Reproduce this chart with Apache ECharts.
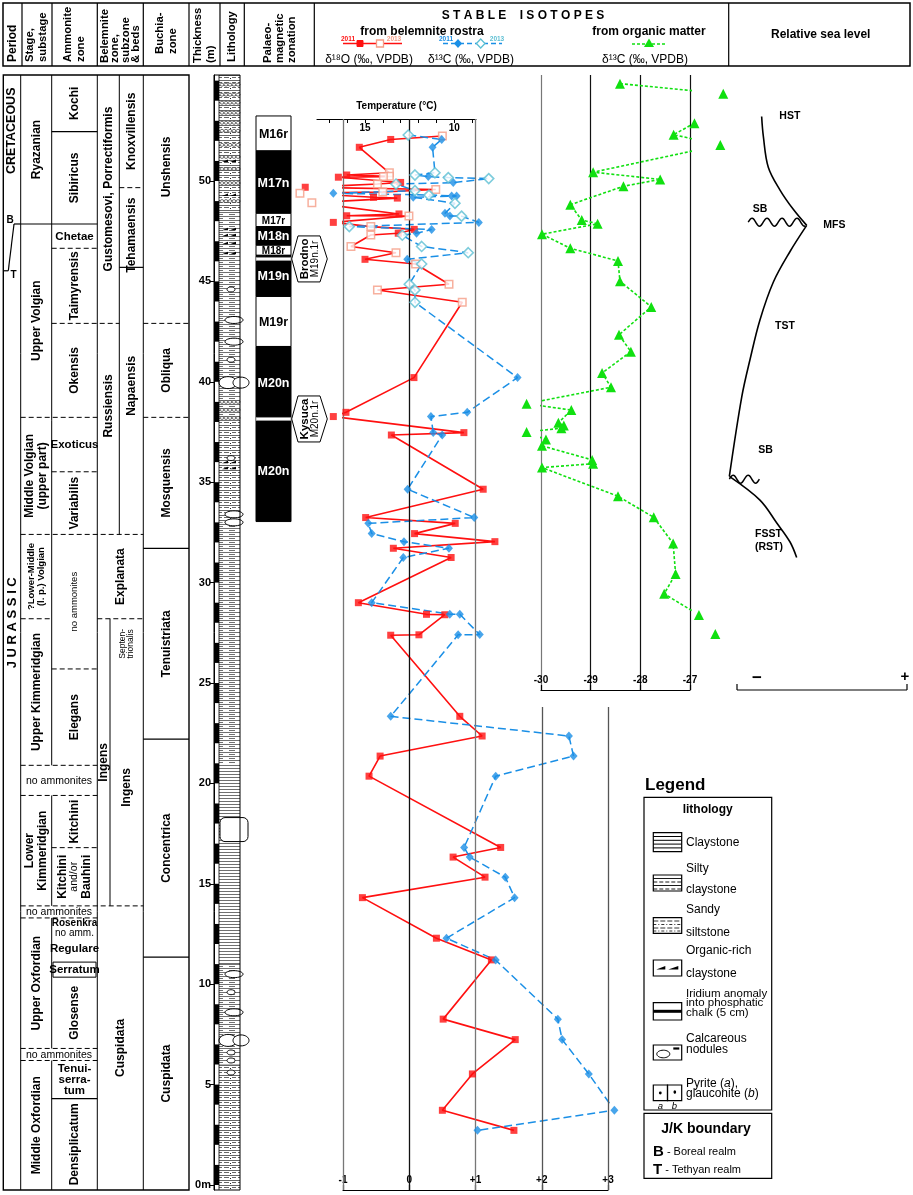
<!DOCTYPE html>
<html>
<head>
<meta charset="utf-8">
<title>Stable isotopes</title>
<script src="https://cdn.jsdelivr.net/npm/echarts@6.0.0/dist/echarts.min.js"></script>
<style>
html,body{margin:0;padding:0;background:#fff;}
#chart{width:913px;height:1195px;}
</style>
</head>
<body>
<div id="chart"></div>
<script>
// ======================= DATA =======================
// thickness (m) is the vertical value everywhere
const thicknessTicks = [0, 5, 10, 15, 20, 25, 30, 35, 40, 45, 50];
const temperatureTicks = [9, 10, 11, 12, 13, 14, 15, 16, 17];
const temperatureLabels = [10, 15];

// belemnite delta18O  [permil, thickness]
const d18O_2011 = [
  [-0.28, 52.07], [-0.754, 51.68], [-0.944, 50.30], [-1.07, 50.19], [-0.13, 49.93], [-1.57, 49.69],
  [-0.54, 49.19], [-0.18, 49.15], [-0.155, 48.36], [-0.944, 48.27], [-1.146, 47.94], [0.075, 47.59],
  [-0.166, 47.40], [-0.668, 46.10], [0.071, 40.21], [-0.955, 38.48], [-1.146, 38.27], [0.825, 37.47],
  [-0.27, 37.35], [1.116, 34.65], [-0.658, 33.24], [0.694, 32.95], [0.08, 32.44], [1.293, 32.04],
  [-0.24, 31.71], [0.632, 31.25], [-0.768, 29.0], [0.26, 28.42], [0.537, 28.40], [0.146, 27.40],
  [-0.28, 27.38], [0.763, 23.34], [1.10, 22.36], [-0.44, 21.36], [-0.607, 20.36], [1.38, 16.81],
  [0.662, 16.33], [1.144, 15.33], [-0.707, 14.31], [0.41, 12.29], [1.24, 11.21], [0.512, 8.26],
  [1.60, 7.24], [0.953, 5.53], [0.50, 3.72], [1.58, 2.72]
];
const d18O_2013 = [
  [0.50, 52.24], [-0.30, 50.41], [-0.30, 50.24], [-0.39, 50.22], [-0.48, 49.85], [0.40, 49.58],
  [-0.40, 49.45], [-1.65, 49.39], [-1.47, 48.92], [-0.005, 48.26], [-0.58, 47.73], [-0.58, 47.31],
  [-0.88, 46.74], [-0.20, 46.43], [0.096, 45.87], [0.60, 44.86], [-0.48, 44.57], [0.80, 43.96]
];
// belemnite delta13C
const d13C_2011 = [
  [0.49, 52.07], [0.352, 51.68], [0.287, 50.22], [0.664, 49.92], [-1.146, 49.39], [0.715, 49.26],
  [0.64, 49.25], [0.06, 49.19], [0.539, 48.39], [0.614, 48.26], [1.05, 47.94], [0.338, 47.59],
  [0.11, 47.40], [-0.03, 46.10], [1.635, 40.21], [0.875, 38.48], [0.327, 38.27], [0.362, 37.47],
  [0.498, 37.35], [-0.025, 34.65], [0.981, 33.24], [-0.618, 32.95], [-0.567, 32.44], [-0.08, 32.04],
  [0.599, 31.71], [-0.09, 31.25], [-0.567, 29.0], [0.612, 28.43], [0.763, 28.42], [1.064, 27.41],
  [0.738, 27.40], [-0.28, 23.34], [2.41, 22.36], [2.48, 21.36], [1.305, 20.36], [0.828, 16.81],
  [0.913, 16.33], [1.45, 15.33], [1.59, 14.31], [0.562, 12.29], [1.305, 11.2], [2.243, 8.26],
  [2.308, 7.24], [2.71, 5.53], [3.096, 3.72], [1.03, 2.72]
];
const d13C_2013 = [
  [-0.015, 52.29], [0.388, 50.41], [0.086, 50.30], [0.589, 50.17], [1.20, 50.12], [-0.20, 49.85],
  [0.086, 49.52], [0.297, 49.30], [0.69, 48.89], [0.79, 48.25], [-0.905, 47.73], [-0.105, 47.30],
  [0.187, 46.74], [0.89, 46.43], [0.187, 45.87], [0.0, 44.86], [0.086, 44.57], [0.086, 43.96]
];
// organic matter delta13C
const d13Corg = [
  [-28.41, 54.85], [-26.33, 54.35], [-26.91, 52.88], [-27.33, 52.31], [-26.39, 51.79], [-28.95, 50.44],
  [-27.60, 50.08], [-28.34, 49.74], [-29.41, 48.82], [-29.18, 48.06], [-28.86, 47.87], [-29.98, 47.35],
  [-29.41, 46.65], [-28.45, 46.02], [-28.41, 45.01], [-27.78, 43.73], [-28.43, 42.34], [-28.19, 41.50],
  [-28.77, 40.44], [-28.59, 39.73], [-30.29, 38.91], [-29.39, 38.59], [-29.65, 37.96], [-29.54, 37.82],
  [-29.59, 37.69], [-30.29, 37.50], [-29.90, 37.12], [-29.98, 36.81], [-28.97, 36.11], [-28.95, 35.92],
  [-29.98, 35.73], [-28.45, 34.30], [-27.73, 33.25], [-27.34, 31.95], [-27.29, 30.43], [-27.52, 29.44],
  [-26.82, 28.39], [-26.49, 27.44]
];
// relative sea level (relative position, thickness)
const seaHST = [[1.45, 53.21], [1.55, 52.22], [1.84, 50.69], [2.53, 49.55], [3.31, 48.59], [4.10, 47.79]];
const seaTST = [[4.10, 47.79], [3.12, 46.49], [2.14, 44.97], [1.35, 43.08], [0.78, 41.16], [0.28, 39.25], [-0.45, 35.29]];
const seaFSST = [[-0.45, 35.29], [1.35, 34.11], [2.34, 32.97], [3.12, 32.02], [3.51, 31.25]];
const sequenceBoundaries = [[0.66, 4.05, 47.95], [-0.45, 1.35, 35.15]];
const sequenceLabels = [['HST', 2.49, 53.21], ['SB', 0.92, 48.61], ['MFS', 5.08, 47.79], ['TST', 2.24, 42.78], ['SB', 1.25, 36.58], ['FSST\n(RST)', 1.06, 32.07]];

// palaeomagnetic zonation [name, top, base, black]
const magnetozones = [
  ['M16r', 53.24, 51.5, 0], ['M17n', 51.5, 48.39, 1], ['M17r', 48.39, 47.73, 0], ['M18n', 47.73, 46.80, 1],
  ['M18r', 46.80, 46.30, 0], ['M19n', 46.30, 44.25, 1], ['M19r', 44.25, 41.76, 0], ['M20n', 41.76, 38.15, 1],
  ['M20n', 38.15, 33.04, 1]
];
const subchrons = [['Brodno', 'M19n.1r', 46.12], ['Kysuca', 'M20n.1r', 38.15]];

// lithology [base, top, type]
const lithology = [[-0.25, 6.0, 'sand'], [6.0, 11.0, 'silt'], [11.0, 21.0, 'clay'], [21.0, 33.0, 'silt'],
  [33.0, 38.0, 'sand'], [38.0, 48.5, 'silt'], [48.5, 55.28, 'sand']];
const nodules = [[5.6, 1], [6.2, 1], [6.6, 1], [7.2, 3], [8.6, 2], [9.6, 1], [10.5, 2], [17.7, 4], [33.0, 2], [33.4, 2],
  [36.2, 1], [39.96, 3], [41.1, 1], [42.0, 2], [43.08, 2], [44.6, 1]];
const nodularRows = [54.8, 54.3, 53.9, 53.4, 52.9, 52.5, 51.8, 51.2, 50.6, 49.9, 49.0, 39.0, 38.6, 38.2];
const organicMarks = [35.7, 36.0, 46.4, 46.9, 47.3, 47.6, 49.3, 51.0];
const scaleBarBlack = [[0, 1], [2, 3], [4, 5], [6, 7], [8, 9], [10, 11], [12, 13], [14, 15], [16, 17], [18, 19], [20, 21],
  [22, 23], [24, 25], [26, 27], [28, 29], [30, 31], [32, 33], [34, 35], [36, 37], [38, 39], [40, 41], [42, 43],
  [44, 45], [46, 47], [48, 49], [50, 51], [52, 53], [54, 55]];

// stratigraphy (name, top, base[, level of the label])
const periods = [['CRETACEOUS', 52.5], ['J U R A S S I C', 28.0]];
const jkBoundary = {boreal: 47.86, tethyan: 45.53};
const stageUnits = [
  ['Ryazanian', 55.28, 47.86], ['Upper Volgian', 47.86, 38.23], ['Middle Volgian\n(upper part)', 38.23, 32.4],
  ['?Lower-Middle\n(l. p.) Volgian', 32.4, 28.2], ['Upper Kimmeridgian', 28.2, 20.9], ['Lower\nKimmeridgian', 19.4, 13.9],
  ['Upper Oxfordian', 13.3, 6.8], ['Middle Oxfordian', 6.2, -0.25]
];
const noAmmoniteBands = [[20.9, 19.4], [13.9, 13.3], [6.8, 6.2]];
const ammoniteZones = [
  ['Kochi', 55.28, 52.46], ['Sibiricus', 52.46, 47.86], ['Chetae', 47.86, 46.65], ['Taimyrensis', 46.65, 42.91],
  ['Okensis', 42.91, 38.23], ['Exoticus', 38.23, 35.52], ['Variabilis', 35.52, 32.4], ['no ammonites', 32.4, 25.7],
  ['Elegans', 25.7, 20.9], ['Kitchini', 19.4, 16.8], ['Kitchini\nand/or\nBauhini', 16.8, 13.9], ['Rosenkra', 13.3, 12.85],
  ['no amm.', 12.85, 12.3], ['Regulare', 12.3, 11.25], ['Serratum', 11.1, 10.35], ['Glosense', 10.35, 6.8],
  ['Tenui-\nserra-\ntum', 6.2, 4.3], ['Densiplicatum', 4.3, -0.25]
];
const belemniteZones = [
  ['Gustomesovi, Porrectiformis', 55.28, 42.91, 'belL', 49.6], ['Russiensis', 42.91, 32.4, 'belL', 38.8],
  ['Knoxvillensis', 55.28, 49.67, 'belR'], ['Tehamaensis', 49.67, 45.70, 'belR', 47.3], ['Napaensis', 45.70, 32.4, 'belR', 39.8],
  ['Explanata', 32.4, 28.2, 'bel'], ['Ingens', 28.2, 13.9, 'ingL'], ['Septen-\ntrionalis', 28.2, 25.7, 'ingR'],
  ['Ingens', 25.7, 13.9, 'ingR'], ['Cuspidata', 13.9, -0.25, 'bel']
];
const buchiaZones = [
  ['Unshensis', 55.28, 42.91, 50.7], ['Obliqua', 42.91, 38.23], ['Mosquensis', 38.23, 31.7], ['Tenuistriata', 31.7, 22.2],
  ['Concentrica', 22.2, 11.35], ['Cuspidata', 11.35, -0.25]
];
const zoneBoundaries = [ // [thickness, first column, last column, dashed]
  [52.46, 'amm', 'amm', 0], [47.86, 'stage', 'amm', 0], [46.65, 'amm', 'amm', 1], [42.91, 'amm', 'belL', 1],
  [42.91, 'buch', 'buch', 1], [38.23, 'stage', 'amm', 1], [38.23, 'buch', 'buch', 1], [35.52, 'amm', 'amm', 1],
  [32.4, 'stage', 'belR', 1], [31.7, 'buch', 'buch', 0], [28.2, 'stage', 'stage', 1], [28.2, 'belL', 'belR', 1],
  [25.7, 'amm', 'amm', 1], [22.2, 'buch', 'buch', 0], [20.9, 'stage', 'amm', 1], [19.4, 'stage', 'amm', 1],
  [16.8, 'amm', 'amm', 1], [13.9, 'stage', 'belR', 1], [13.3, 'stage', 'amm', 1], [11.35, 'buch', 'buch', 0],
  [6.8, 'stage', 'amm', 1], [6.2, 'stage', 'amm', 1], [4.3, 'amm', 'amm', 0], [49.67, 'belR', 'belR', 1],
  [45.70, 'belR', 'belR', 0]
];

// ======================= LAYOUT / STYLE =======================
const FONT = '"Liberation Sans", Arial, Helvetica, sans-serif';
const fnt = (bold, size, italic) => (italic ? 'italic ' : '') + (bold ? 'bold ' : '') + size + 'px ' + FONT;
const Y_MIN = -0.25, Y_MAX = 55.28, GT = 75, GB = 5;
const UPPER_MIN = 24.65; // grids ending at the organic/sea-level axis
const RED = '#ff1010', SALMON = '#f59c86', BLUE = '#1a8fe6', CYAN = '#5cbfd3', GREEN = '#10e010';
const COLS = {period: [3.3, 20.7], stage: [20.7, 51.7], amm: [51.7, 97.3], belL: [97.3, 119.3], belR: [119.3, 143.3],
  bel: [97.3, 143.3], ingL: [97.3, 110], ingR: [110, 143.3], buch: [143.3, 189]};

function makePattern(kind) {
  const c = document.createElement('canvas');
  if (kind === 'clay') {
    c.width = 8; c.height = 3;
    const g = c.getContext('2d'); g.fillStyle = '#fff'; g.fillRect(0, 0, 8, 3); g.fillStyle = '#707070'; g.fillRect(0, 0, 8, 1);
  } else if (kind === 'silt') {
    c.width = 12; c.height = 4;
    const g = c.getContext('2d'); g.fillStyle = '#fff'; g.fillRect(0, 0, 12, 4); g.fillStyle = '#707070';
    g.fillRect(0, 0, 12, 1); g.fillRect(1, 2, 6, 1);
  } else {
    c.width = 14; c.height = 5;
    const g = c.getContext('2d'); g.fillStyle = '#fff'; g.fillRect(0, 0, 14, 5); g.fillStyle = '#666';
    g.fillRect(0, 0, 14, 1); g.fillRect(0, 2, 5, 1); g.fillRect(8, 2, 4, 1); g.fillStyle = '#222'; g.fillRect(6, 3, 1, 1);
  }
  return c;
}
const LITHO_TYPES = ['clay', 'silt', 'sand'];
const PATS = LITHO_TYPES.map(makePattern);

const redLine = d18O_2011.concat(d18O_2013).sort((a, b) => b[1] - a[1]);
const blueLine = d13C_2011.concat(d13C_2013).sort((a, b) => b[1] - a[1]);

const hiddenX = (gi, min, max) => ({gridIndex: gi, type: 'value', min, max, show: false});
const hiddenY = (gi, min, max) => ({gridIndex: gi, type: 'value', min, max, show: false});
const bracketAxis = {
  axisLine: {show: true, onZero: false, lineStyle: {color: '#000', width: 1.2}},
  axisTick: {show: true, inside: true, length: 5, lineStyle: {color: '#000', width: 1.2}},
  axisLabel: {inside: true, color: '#000', fontFamily: FONT, fontWeight: 'bold', fontSize: 10, margin: 5}
};

const option = {
  animation: false,
  backgroundColor: '#fff',
  grid: [
    {left: 3, width: 186, top: GT, bottom: GB},     // 0 stratigraphy
    {left: 214, width: 26, top: GT, bottom: GB},    // 1 lithology + thickness
    {left: 256, width: 35, top: GT, bottom: GB},    // 2 palaeomagnetism
    {left: 343, width: 265, top: GT, bottom: GB},   // 3 belemnite isotopes
    {left: 317, width: 159, top: 119, height: 100}, // 4 temperature
    {left: 541, width: 149, top: GT, bottom: 505},  // 5 organic d13C
    {left: 720, width: 187, top: GT, bottom: 505}   // 6 sea level
  ],
  xAxis: [
    hiddenX(0, 0, 186),
    hiddenX(1, 0, 1),
    hiddenX(2, 0, 1),
    Object.assign({gridIndex: 3, type: 'value', min: -1, max: 3, interval: 1, position: 'bottom', splitLine: {show: false}}, bracketAxis,
      {axisLabel: Object.assign({}, bracketAxis.axisLabel, {formatter: v => v > 0 ? '+' + v : String(v)})}),
    {gridIndex: 4, type: 'value', position: 'top', inverse: true, min: 8.785, max: 17.69, splitLine: {show: false},
      axisLine: {show: true, onZero: false, lineStyle: {color: '#000', width: 1.2}},
      axisTick: {show: true, inside: true, length: 4, customValues: temperatureTicks, lineStyle: {color: '#000'}},
      axisLabel: {inside: true, customValues: temperatureLabels, color: '#000', fontFamily: FONT, fontWeight: 'bold', fontSize: 10, margin: 4},
      name: 'Temperature (°C)', nameLocation: 'middle', nameGap: 8,
      nameTextStyle: {color: '#000', fontFamily: FONT, fontWeight: 'bold', fontSize: 10}},
    Object.assign({gridIndex: 5, type: 'value', min: -30, max: -27, interval: 1, position: 'bottom',
      splitLine: {show: true, lineStyle: {color: ['#777', '#111', '#111', '#111'], width: 1.2}}}, bracketAxis),
    hiddenX(6, -1, 10)
  ],
  yAxis: [
    hiddenY(0, Y_MIN, Y_MAX),
    {gridIndex: 1, type: 'value', min: Y_MIN, max: Y_MAX, position: 'left', splitLine: {show: false},
      axisLine: {show: true, onZero: false, lineStyle: {color: '#000', width: 1}},
      axisTick: {show: true, length: 4, customValues: thicknessTicks, lineStyle: {color: '#000'}},
      axisLabel: {customValues: thicknessTicks, color: '#000', fontFamily: FONT, fontWeight: 'bold', fontSize: 11, margin: 3,
        formatter: v => v === 0 ? '0m' : String(v)}},
    hiddenY(2, Y_MIN, Y_MAX),
    hiddenY(3, Y_MIN, Y_MAX),
    hiddenY(4, 0, 1),
    hiddenY(5, UPPER_MIN, Y_MAX),
    hiddenY(6, UPPER_MIN, Y_MAX)
  ],
  series: [
    {type: 'custom', xAxisIndex: 1, yAxisIndex: 1, silent: true, z: 1,
      data: lithology.map(d => [d[0], d[1], LITHO_TYPES.indexOf(d[2])]),
      renderItem: (p, api) => {
        const tl = api.coord([0, api.value(1)]), br = api.coord([1, api.value(0)]);
        return {type: 'rect', shape: {x: tl[0] + 5, y: tl[1], width: br[0] - tl[0] - 5, height: br[1] - tl[1]},
          style: {fill: {image: PATS[api.value(2)], repeat: 'repeat'}}};
      }},
    {type: 'custom', xAxisIndex: 1, yAxisIndex: 1, silent: true, z: 2,
      data: scaleBarBlack,
      renderItem: (p, api) => {
        const tl = api.coord([0, api.value(1)]), br = api.coord([1, api.value(0)]);
        return {type: 'rect', shape: {x: tl[0], y: tl[1], width: 5, height: br[1] - tl[1]}, style: {fill: '#000'}};
      }},
    {type: 'custom', xAxisIndex: 1, yAxisIndex: 1, silent: true, z: 3,
      data: nodularRows.map(m => [m]),
      renderItem: (p, api) => {
        const c = api.coord([0, api.value(0)]);
        const ch = [];
        for (let i = 0; i < 5; i++) ch.push({type: 'ellipse', shape: {cx: c[0] + 8 + i * 4, cy: c[1], rx: 2, ry: 1.4},
          style: {fill: '#fff', stroke: '#333', lineWidth: 0.8}});
        return {type: 'group', children: ch};
      }},
    {type: 'custom', xAxisIndex: 1, yAxisIndex: 1, silent: true, z: 3,
      data: organicMarks.map(m => [m]),
      renderItem: (p, api) => {
        const c = api.coord([0, api.value(0)]);
        return {type: 'group', children: [
          {type: 'polygon', shape: {points: [[c[0] + 8, c[1] + 1], [c[0] + 14, c[1] - 1.5], [c[0] + 14, c[1] + 1]]}, style: {fill: '#000'}},
          {type: 'polygon', shape: {points: [[c[0] + 16, c[1] + 1], [c[0] + 22, c[1] - 1.5], [c[0] + 22, c[1] + 1]]}, style: {fill: '#000'}}
        ]};
      }},
    {type: 'custom', xAxisIndex: 1, yAxisIndex: 1, silent: true, z: 4,
      data: nodules,
      renderItem: (p, api) => {
        const c = api.coord([0, api.value(0)]);
        const s = api.value(1);
        if (s === 4) return {type: 'rect', shape: {x: c[0] + 6, y: c[1] - 12, width: 28, height: 24, r: 5}, style: {fill: '#fff', stroke: '#000', lineWidth: 1}};
        if (s === 3) return {type: 'group', children: [
          {type: 'ellipse', shape: {cx: c[0] + 14, cy: c[1], rx: 9, ry: 6}, style: {fill: '#fff', stroke: '#000', lineWidth: 1}},
          {type: 'ellipse', shape: {cx: c[0] + 27, cy: c[1], rx: 8, ry: 5.5}, style: {fill: '#fff', stroke: '#000', lineWidth: 1}}]};
        if (s === 2) return {type: 'ellipse', shape: {cx: c[0] + 20, cy: c[1], rx: 9, ry: 3.5}, style: {fill: '#fff', stroke: '#000', lineWidth: 1}};
        return {type: 'ellipse', shape: {cx: c[0] + 17, cy: c[1], rx: 4, ry: 2.5}, style: {fill: '#fff', stroke: '#000', lineWidth: 0.9}};
      }},
    {type: 'custom', xAxisIndex: 2, yAxisIndex: 2, silent: true, z: 3,
      data: magnetozones.map((z, i) => [z[1], z[2], z[3], i]),
      renderItem: (p, api) => {
        const tl = api.coord([0, api.value(0)]), br = api.coord([1, api.value(1)]);
        const black = api.value(2) === 1, h = br[1] - tl[1];
        return {type: 'group', children: [
          {type: 'rect', shape: {x: tl[0], y: tl[1], width: br[0] - tl[0], height: h}, style: {fill: black ? '#000' : '#fff', stroke: '#000', lineWidth: 1}},
          {type: 'text', x: (tl[0] + br[0]) / 2, y: tl[1] + h / 2 + 1, style: {text: magnetozones[api.value(3)][0],
            fill: black ? '#fff' : '#000', font: fnt(true, h < 16 ? 10 : 12.5), align: 'center', verticalAlign: 'middle'}}
        ]};
      }},
    {type: 'custom', xAxisIndex: 2, yAxisIndex: 2, silent: true, z: 5,
      data: subchrons.map((s, i) => [s[2], i]),
      renderItem: (p, api) => {
        const l = api.coord([0, api.value(0)]), r = api.coord([1, api.value(0)]);
        const s = subchrons[api.value(1)], cy = l[1], x0 = r[0];
        return {type: 'group', children: [
          {type: 'rect', shape: {x: l[0], y: cy - 1.5, width: r[0] - l[0], height: 3}, style: {fill: '#fff', stroke: '#999', lineWidth: 0.8}},
          {type: 'polygon', shape: {points: [[x0 + 0.7, cy], [x0 + 7, cy - 23], [x0 + 29, cy - 23], [x0 + 36.3, cy], [x0 + 29, cy + 23], [x0 + 7, cy + 23]]},
            style: {fill: '#fff', stroke: '#000', lineWidth: 1}},
          {type: 'text', x: x0 + 13.5, y: cy, rotation: Math.PI / 2, style: {text: s[0], font: fnt(true, 11.5), fill: '#000', align: 'center', verticalAlign: 'middle'}},
          {type: 'text', x: x0 + 24.5, y: cy, rotation: Math.PI / 2, style: {text: s[1], font: fnt(false, 10), fill: '#000', align: 'center', verticalAlign: 'middle'}}
        ]};
      }},
    {type: 'line', xAxisIndex: 3, yAxisIndex: 3, data: [], silent: true,
      markLine: {silent: true, symbol: 'none', label: {show: false},
        data: [[-1, '#777', 53.09], [0, '#111', 53.09], [1, '#777', 53.09], [2, '#555', 23.8], [3, '#555', 23.8]].map(d => [
          {coord: [d[0], d[2]], lineStyle: {color: d[1], width: 1.3, type: 'solid'}}, {coord: [d[0], Y_MIN]}])}},
    {name: 'd18O', type: 'line', xAxisIndex: 3, yAxisIndex: 3, data: redLine, showSymbol: false, clip: false, z: 4,
      lineStyle: {color: RED, width: 1.6}},
    {name: 'd13C', type: 'line', xAxisIndex: 3, yAxisIndex: 3, data: blueLine, showSymbol: false, clip: false, z: 4,
      lineStyle: {color: BLUE, width: 1.5, type: [8, 4]}},
    {name: 'd18O 2011', type: 'scatter', xAxisIndex: 3, yAxisIndex: 3, data: d18O_2011, clip: false, z: 6,
      symbol: 'rect', symbolSize: 7, itemStyle: {color: RED}},
    {name: 'd18O 2013', type: 'scatter', xAxisIndex: 3, yAxisIndex: 3, data: d18O_2013, clip: false, z: 6,
      symbol: 'rect', symbolSize: 7.5, itemStyle: {color: '#fff', borderColor: SALMON, borderWidth: 1.5}},
    {name: 'd13C 2011', type: 'scatter', xAxisIndex: 3, yAxisIndex: 3, data: d13C_2011, clip: false, z: 7,
      symbol: 'diamond', symbolSize: [8, 9], itemStyle: {color: BLUE}},
    {name: 'd13C 2013', type: 'scatter', xAxisIndex: 3, yAxisIndex: 3, data: d13C_2013, clip: false, z: 7,
      symbol: 'diamond', symbolSize: [10, 10], itemStyle: {color: '#fff', borderColor: CYAN, borderWidth: 1.6}},
    {name: 'd13C org', type: 'line', xAxisIndex: 5, yAxisIndex: 5, data: d13Corg, clip: false, z: 5,
      symbol: 'triangle', symbolSize: 10, showSymbol: true, itemStyle: {color: GREEN},
      lineStyle: {color: GREEN, width: 1.6, type: [3, 2]}},
    ...[seaHST, seaTST, seaFSST].map(d => ({type: 'line', xAxisIndex: 6, yAxisIndex: 6, data: d, smooth: 0.35,
      showSymbol: false, clip: false, silent: true, lineStyle: {color: '#000', width: 1.6}})),
    {type: 'custom', xAxisIndex: 6, yAxisIndex: 6, silent: true, z: 5,
      data: sequenceBoundaries,
      renderItem: (p, api) => {
        const a = api.coord([api.value(0), api.value(2)]), b = api.coord([api.value(1), api.value(2)]);
        const pts = [];
        for (let x = a[0]; x <= b[0]; x += 1) pts.push([x, a[1] - 4 * Math.sin((x - a[0]) / 15 * 2 * Math.PI)]);
        return {type: 'polyline', shape: {points: pts}, style: {stroke: '#000', lineWidth: 1.5, fill: null}};
      }},
    {type: 'custom', xAxisIndex: 6, yAxisIndex: 6, silent: true, z: 5,
      data: sequenceLabels.map((s, i) => [s[1], s[2], i]),
      renderItem: (p, api) => {
        const c = api.coord([api.value(0), api.value(1)]);
        return {type: 'text', x: c[0], y: c[1], style: {text: sequenceLabels[api.value(2)][0], font: fnt(true, 10.5), fill: '#000',
          align: 'left', verticalAlign: 'middle', lineHeight: 13}};
      }}
  ]
};

const chart = echarts.init(document.getElementById('chart'));
chart.setOption(option);

// ======================= FRAMES, HEADERS, LEGEND =======================
const Y = m => chart.convertToPixel({gridIndex: 0}, [0, m])[1];
const G = [];
function T(text, x, y, font, o) {
  o = o || {};
  const al = o.align || 'center', va = o.va || 'middle';
  G.push({type: 'text', x, y, rotation: o.rot ? Math.PI / 2 : 0, z: 50, silent: true,
    style: {text, font, fill: o.fill || '#000', align: al, textAlign: al, verticalAlign: va, textVerticalAlign: va,
      lineHeight: o.lh, rich: o.rich}});
}
function L(x1, y1, x2, y2, o) {
  o = o || {};
  G.push({type: 'line', z: 40, silent: true, shape: {x1, y1, x2, y2},
    style: {stroke: o.color || '#000', lineWidth: o.w || 1, lineDash: o.dash ? [5, 3] : null}});
}
function R(x, y, w, h, o) {
  o = o || {};
  G.push({type: 'rect', z: o.z || 40, silent: true, shape: {x, y, width: w, height: h},
    style: {fill: o.fill || 'none', stroke: o.stroke === undefined ? '#000' : o.stroke, lineWidth: o.w || 1}});
}

// header
R(3, 3, 907, 63, {w: 1.5});
[22, 52, 97.3, 143.3, 189, 220, 244.3, 314.3, 728.7].forEach(x => L(x, 3, x, 66, {w: 1.2}));
const HB = fnt(true, 11.3);
T('Period', 12.5, 62, fnt(true, 12), {rot: 1, align: 'left'});
T('Stage,\nsubstage', 36.5, 62, HB, {rot: 1, align: 'left', lh: 13});
T('Ammonite\nzone', 74.5, 62, HB, {rot: 1, align: 'left', lh: 13});
T('Belemnite\nzone,\nsubzone\n& beds', 120.3, 63, HB, {rot: 1, align: 'left', lh: 10.5});
T('Buchia-\nzone', 166, 54, HB, {rot: 1, align: 'left', lh: 13});
T('Thickness\n(m)', 204, 63, HB, {rot: 1, align: 'left', lh: 13});
T('Lithology', 232, 62, HB, {rot: 1, align: 'left'});
T('Palaeo-\nmagnetic\nzonation', 279.5, 63, HB, {rot: 1, align: 'left', lh: 12});
T('S T A B L E    I S O T O P E S', 523, 16, fnt(true, 12));
T('from belemnite rostra', 422, 31.5, fnt(true, 12));
T('from organic matter', 649, 31.5, fnt(true, 12));
T('δ¹⁸O (‰, VPDB)', 369, 60, fnt(false, 12));
T('δ¹³C (‰, VPDB)', 471, 60, fnt(false, 12));
T('δ¹³C (‰, VPDB)', 645, 60, fnt(false, 12));
T('Relative sea level', 820.7, 35, fnt(true, 12));
L(343, 43.5, 402, 43.5, {color: RED, w: 1.6});
R(357, 40.5, 6, 6, {fill: RED, stroke: RED, z: 45});
R(376.5, 40, 7, 7, {fill: '#fff', stroke: SALMON, w: 1.3, z: 45});
T('2011', 348, 39.5, fnt(true, 6.5), {fill: RED});
T('2013', 394, 39.5, fnt(true, 6.5), {fill: SALMON});
G.push({type: 'line', z: 40, shape: {x1: 443, y1: 43.5, x2: 502, y2: 43.5}, style: {stroke: BLUE, lineWidth: 1.5, lineDash: [5, 3]}});
G.push({type: 'polygon', z: 45, shape: {points: [[458, 39], [462, 43.5], [458, 48], [454, 43.5]]}, style: {fill: BLUE}});
G.push({type: 'polygon', z: 45, shape: {points: [[480.7, 39], [485, 43.5], [480.7, 48], [476.4, 43.5]]}, style: {fill: '#fff', stroke: CYAN, lineWidth: 1.3}});
T('2011', 446, 39.5, fnt(true, 6.5), {fill: BLUE});
T('2013', 497, 39.5, fnt(true, 6.5), {fill: CYAN});
G.push({type: 'line', z: 40, shape: {x1: 632, y1: 44, x2: 666, y2: 44}, style: {stroke: GREEN, lineWidth: 1.6, lineDash: [3, 2]}});
G.push({type: 'polygon', z: 45, shape: {points: [[649, 38.5], [654, 47], [644, 47]]}, style: {fill: GREEN}});

// stratigraphic columns
const yTop = Y(Y_MAX), yBot = Y(Y_MIN);
R(3.3, yTop, 185.7, yBot - yTop, {w: 1.4});
L(20.7, yTop, 20.7, yBot);
L(97.3, yTop, 97.3, yBot);
L(143.3, yTop, 143.3, yBot);
L(119.3, yTop, 119.3, Y(32.4));
L(110, Y(28.2), 110, Y(13.9));
{
  let prev = Y_MAX;
  noAmmoniteBands.forEach(b => { L(51.7, Y(prev), 51.7, Y(b[0])); prev = b[1]; });
  L(51.7, Y(prev), 51.7, yBot);
}
zoneBoundaries.forEach(b => {
  const y = Y(b[0]);
  L(COLS[b[1]][0], y, COLS[b[2]][1], y, {dash: b[3] === 1, w: b[3] ? 1 : 1.2});
});
{
  const yb = Y(jkBoundary.boreal), yt = Y(jkBoundary.tethyan);
  L(14, yb, 20.7, yb, {w: 1.2}); L(14, yb, 8.3, yt, {w: 1.2}); L(8.3, yt, 3.3, yt, {w: 1.2});
  T('B', 10, yb - 4, fnt(true, 10)); T('T', 13.5, yt + 4, fnt(true, 10));
}
periods.forEach(p => T(p[0], 12, Y(p[1]), fnt(true, p[0].length > 12 ? 13 : 12.5), {rot: 1}));
const mid = (a, b) => (Y(a) + Y(b)) / 2;
stageUnits.forEach(s => {
  const small = s[0].startsWith('?');
  T(s[0], 36.2, mid(s[1], s[2]), fnt(true, small ? 9.5 : 12), {rot: 1, lh: small ? 10 : 13});
});
noAmmoniteBands.forEach(b => T('no ammonites', 59, mid(b[0], b[1]) + 0.5, fnt(false, 10.5)));
const horizontalAmm = ['Chetae', 'Exoticus', 'Rosenkra', 'no amm.', 'Regulare', 'Serratum', 'Tenui-\nserra-\ntum'];
ammoniteZones.forEach(z => {
  const cx = 74.5, cy = mid(z[1], z[2]);
  if (z[0] === 'Kitchini\nand/or\nBauhini') {
    T('{b|Kitchini}\n{r|and/or}\n{b|Bauhini}', cx, cy, fnt(true, 12), {rot: 1,
      rich: {b: {font: fnt(true, 12), lineHeight: 13}, r: {font: fnt(false, 10.5), lineHeight: 11}}});
  } else if (z[0] === 'no ammonites') {
    T(z[0], cx, cy, fnt(false, 9.5), {rot: 1});
  } else if (horizontalAmm.indexOf(z[0]) >= 0) {
    const small = ['Rosenkra', 'no amm.'].indexOf(z[0]) >= 0;
    T(z[0], cx, cy + 0.5, fnt(z[0] !== 'no amm.', small ? 10 : 11.5), {lh: 11});
    if (z[0] === 'Serratum') R(53, Y(z[1]), 43, Y(z[2]) - Y(z[1]), {w: 1});
  } else {
    T(z[0], cx, cy, fnt(true, 12), {rot: 1});
  }
});
belemniteZones.forEach(z => {
  const c = COLS[z[3]];
  const cx = (c[0] + c[1]) / 2, cy = z[4] !== undefined ? Y(z[4]) : mid(z[1], z[2]);
  if (z[0].startsWith('Septen')) T(z[0], cx, cy, fnt(false, 8.5), {rot: 1, lh: 8});
  else T(z[0], cx, cy, fnt(true, 12), {rot: 1});
});
buchiaZones.forEach(z => T(z[0], 166.2, z[3] !== undefined ? Y(z[3]) : mid(z[1], z[2]), fnt(true, 12), {rot: 1}));

// lithology column frame
R(214, yTop, 26, yBot - yTop, {w: 1});
L(219, yTop, 219, yBot, {w: 0.8});

// sea-level axis (bracket) and signs
L(737, 690, 907, 690, {w: 1.2}); L(737, 684, 737, 690, {w: 1.2}); L(907, 684, 907, 690, {w: 1.2});
T('−', 757, 678, fnt(true, 17));
T('+', 905, 677, fnt(true, 15));

// Legend
T('Legend', 645, 785, fnt(true, 17), {align: 'left'});
R(644, 797.3, 127.7, 312.7, {w: 1.2});
T('lithology', 707.7, 809.5, fnt(true, 12));
const IX = 653.3, IW = 28.4;
function icon(y0, h) { R(IX, y0, IW, h, {w: 1.2}); }
icon(832.7, 19); [836.5, 840.3, 844.1, 847.9].forEach(y => L(IX, y, IX + IW, y, {w: 1}));
T('Claystone', 686, 842.3, fnt(false, 12), {align: 'left'});
icon(875, 16); [878.5, 882, 885.5, 889].forEach((y, i) => G.push({type: 'line', z: 41, shape: {x1: IX, y1: y, x2: IX + IW, y2: y},
  style: {stroke: '#000', lineWidth: 0.9, lineDash: i % 2 ? [4, 2] : null}}));
T('Silty', 686, 868.3, fnt(false, 12), {align: 'left'}); T('claystone', 686, 890, fnt(false, 12), {align: 'left'});
icon(917.7, 15.6); [921, 924.5, 928, 931].forEach((y, i) => G.push({type: 'line', z: 41, shape: {x1: IX, y1: y, x2: IX + IW, y2: y},
  style: {stroke: '#000', lineWidth: 0.8, lineDash: i % 2 ? [3, 2, 1, 2] : [5, 2]}}));
T('Sandy', 686, 909.3, fnt(false, 12), {align: 'left'}); T('siltstone', 686, 932.3, fnt(false, 12), {align: 'left'});
icon(960, 16);
G.push({type: 'polygon', z: 45, shape: {points: [[IX + 3, 969.5], [IX + 12, 966], [IX + 12, 969.5]]}, style: {fill: '#000'}});
G.push({type: 'polygon', z: 45, shape: {points: [[IX + 15, 969.5], [IX + 25, 966], [IX + 25, 969.5]]}, style: {fill: '#000'}});
T('Organic-rich', 686, 950.7, fnt(false, 12), {align: 'left'}); T('claystone', 686, 973.3, fnt(false, 12), {align: 'left'});
icon(1002.7, 17.3); L(IX, 1011.3, IX + IW, 1011.3, {w: 3});
T('Iridium anomaly', 686, 994.3, fnt(false, 11.5), {align: 'left'});
T('into phosphatic', 686, 1003.3, fnt(false, 11.5), {align: 'left'});
T('chalk (5 cm)', 686, 1012.5, fnt(false, 11.5), {align: 'left'});
icon(1045, 15);
G.push({type: 'ellipse', z: 45, shape: {cx: IX + 10, cy: 1054, rx: 6.5, ry: 3.8}, style: {fill: '#fff', stroke: '#000', lineWidth: 1}});
L(IX + 20, 1048.5, IX + 26, 1048.5, {w: 2.2});
T('Calcareous', 686, 1038.3, fnt(false, 12), {align: 'left'}); T('nodules', 686, 1049.5, fnt(false, 12), {align: 'left'});
R(IX, 1085, 14.2, 15.7, {w: 1.2}); R(IX + 14.2, 1085, 14.2, 15.7, {w: 1.2});
G.push({type: 'circle', z: 45, shape: {cx: IX + 7, cy: 1093, r: 1.4}, style: {fill: '#000'}});
G.push({type: 'ellipse', z: 45, shape: {cx: IX + 21.5, cy: 1092, rx: 1.3, ry: 1.8}, style: {fill: '#000'}});
T('a', IX + 7, 1106.5, fnt(false, 9.5, true)); T('b', IX + 21, 1106.5, fnt(false, 9.5, true));
T('{n|Pyrite (}{i|a}{n|),}', 686, 1084, fnt(false, 12), {align: 'left', rich: {n: {font: fnt(false, 12)}, i: {font: fnt(false, 12, true)}}});
T('{n|glauconite (}{i|b}{n|)}', 686, 1094, fnt(false, 12), {align: 'left', rich: {n: {font: fnt(false, 12)}, i: {font: fnt(false, 12, true)}}});
R(644, 1113.3, 127.7, 65, {w: 1.2});
T('J/K boundary', 706, 1129.5, fnt(true, 14));
T('{b|B} {n|- Boreal realm}', 653, 1151.7, fnt(false, 11), {align: 'left', rich: {b: {font: fnt(true, 15)}, n: {font: fnt(false, 11)}}});
T('{b|T} {n|- Tethyan realm}', 653, 1169.5, fnt(false, 11), {align: 'left', rich: {b: {font: fnt(true, 15)}, n: {font: fnt(false, 11)}}});

chart.setOption({graphic: {elements: G}});
</script>
</body>
</html>
